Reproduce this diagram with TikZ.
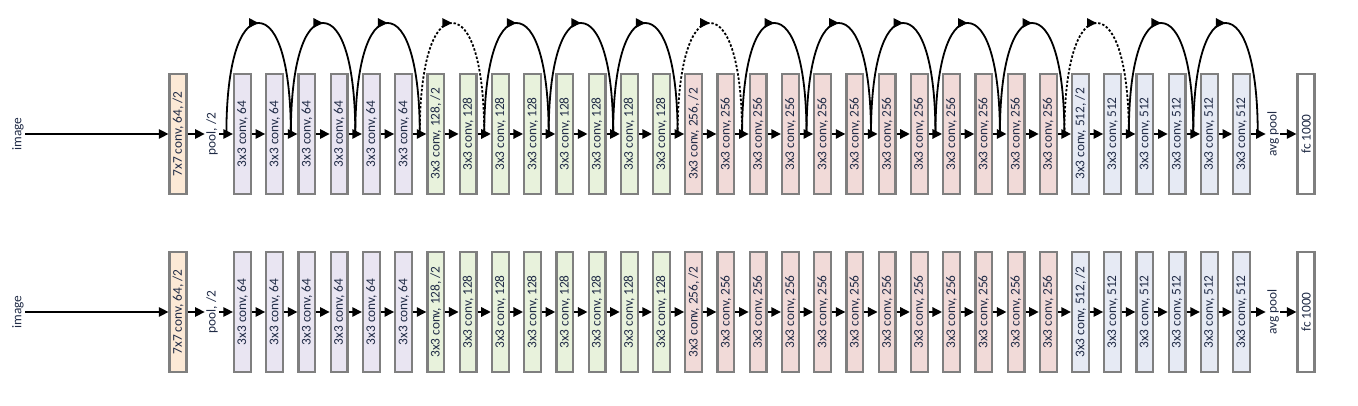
\documentclass[tikz,border=0pt]{standalone}
\usepackage{fontspec}
\setmainfont{Carlito}
\usetikzlibrary{arrows.meta, decorations.markings}

\definecolor{txtc}{HTML}{1F2A45}
\definecolor{edge}{HTML}{7F7F7F}
\definecolor{c7}{HTML}{FCE9D6}
\definecolor{c64}{HTML}{E9E5F2}
\definecolor{c128}{HTML}{E8F2DC}
\definecolor{c256}{HTML}{F1DAD8}
\definecolor{c512}{HTML}{E6EAF4}

\tikzset{
  layer/.style={draw=edge, line width=1.7pt, minimum width=12.6pt,
    minimum height=90pt, inner sep=0pt, text=txtc,
    font=\fontsize{10}{12}\selectfont},
  lbl/.style={inner sep=1pt, text=txtc, font=\fontsize{10}{12}\selectfont},
  flow/.style={-{Triangle[length=7.2pt,width=7pt]}, line width=1.4pt},
  skip/.style={line width=1.35pt, postaction={decorate},
    decoration={markings,
      mark=at position 0.5 with {\arrow{Triangle[length=7.2pt,width=7pt]}}}},
  dotskip/.style={skip, dash pattern=on 1.8pt off 1.4pt},
}

\begin{document}
\begin{tikzpicture}[x=0.75pt, y=0.75pt]
  \def\dx{32.23}
  \useasboundingbox (0,0) rectangle (1358,406);

  % both rows: t = with shortcuts, b = plain
  \foreach \row/\y in {t/272, b/94} {
    \node[lbl] (\row img) at (18,\y) {\rotatebox{90}{image}};
    \node[layer, fill=c7] (\row0) at (178,\y) {\rotatebox{90}{7x7 conv, 64, /2}};
    \node[lbl] (\row pool) at (212,\y) {\rotatebox{90}{pool, /2}};
    \foreach \first/\last/\ch in {1/6/64, 7/14/128, 15/26/256, 27/32/512} {
      \foreach \i in {\first,...,\last} {
        \def\sfx{}
        \ifnum\i=\first\relax \ifnum\i>1 \def\sfx{, /2}\fi \fi
        \node[layer, fill=c\ch] (\row\i) at ({242.5+(\i-1)*\dx},\y)
          {\rotatebox{90}{3x3 conv, \ch\sfx}};
      }
    }
    \node[lbl] (\row avg) at (1273,\y) {\rotatebox{90}{avg pool}};
    \node[layer, fill=white] (\row fc) at (1306,\y) {\rotatebox{90}{fc 1000}};

    \draw[flow] (\row img) -- (\row0);
    \draw[flow] (\row0) -- (\row pool);
    \draw[flow] (\row pool) -- (\row1);
    \foreach \i [evaluate=\i as \j using int(\i+1)] in {1,...,31}
      \draw[flow] (\row\i) -- (\row\j);
    \draw[flow] (\row32) -- (\row avg);
    \draw[flow] (\row avg) -- (\row fc);
  }

  % shortcuts over the top row
  \foreach \i in {1,...,33}
    \coordinate (g\i) at ({242.5+(\i-1.5)*\dx},272);
  \foreach \k in {0,...,15}
    \coordinate (p\k) at ({242.5+(2*\k+0.5)*\dx},383);
  \foreach \k [evaluate=\k as \a using int(2*\k+1),
               evaluate=\k as \b using int(2*\k+3)] in {0,1,2,4,5,6,8,9,10,11,12,14,15}
    \draw[skip] (g\a) .. controls +(0,70) and +(-19,0) .. (p\k)
                      .. controls +(19,0) and +(0,70) .. (g\b);
  \foreach \k [evaluate=\k as \a using int(2*\k+1),
               evaluate=\k as \b using int(2*\k+3)] in {3,7,13}
    \draw[dotskip] (g\a) .. controls +(0,70) and +(-19,0) .. (p\k)
                         .. controls +(19,0) and +(0,70) .. (g\b);
\end{tikzpicture}
\end{document}
